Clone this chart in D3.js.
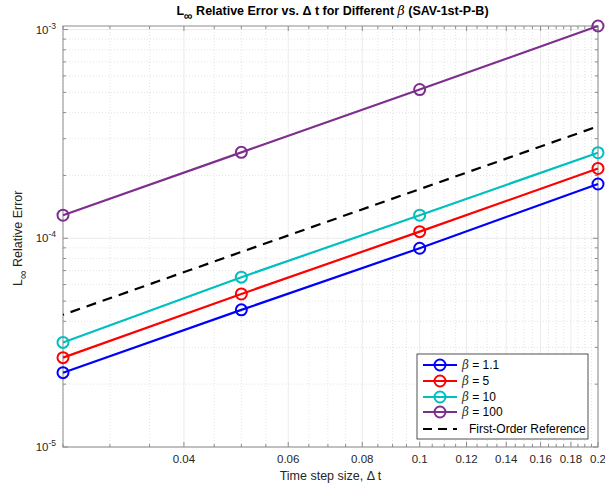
<!DOCTYPE html>
<meta charset="utf-8">
<script src="https://d3js.org/d3.v7.min.js"></script>
<style>
  body { margin: 0; background: #fff; }
  text { font-family: "Liberation Sans", Arial, sans-serif; }
</style>
<div id="my_dataviz"></div>
<script>

  // time steps and errors for each beta
  var dt = [0.025, 0.05, 0.1, 0.2];
  var betas = ["1.1", "5", "10", "100"];
  var errB1 = [2.27e-5, 4.54e-5, 8.96e-5, 1.82e-4];
  var errB5 = [2.68e-5, 5.41e-5, 1.076e-4, 2.16e-4];
  var errB10 = [3.17e-5, 6.51e-5, 1.29e-4, 2.57e-4];
  var errB100 = [1.29e-4, 2.58e-4, 5.16e-4, 1.04e-3];
  var refLine = [4.3e-5, 8.6e-5, 1.72e-4, 3.44e-4];
  var xTickLabels = [0.04, 0.06, 0.08, 0.1, 0.12, 0.14, 0.16, 0.18, 0.2];
  var yTickExps = [-5, -4, -3];

  var colors = ["#0000ff", "#ff0000", "#00bfbf", "#7e2f8e"];
  var seriesErr = [errB1, errB5, errB10, errB100];

  var margin = { top: 26, right: 7, bottom: 40, left: 63 },
    W = 605, H = 487,
    width = W - margin.left - margin.right,
    height = H - margin.top - margin.bottom;

  var svg = d3.select("#my_dataviz")
    .append("svg")
    .attr("width", W)
    .attr("height", H);

  var g = svg.append("g")
    .attr("transform", "translate(" + margin.left + "," + margin.top + ")");

  var x = d3.scaleLog().domain([0.025, 0.2]).range([0, width]);
  var y = d3.scaleLog().domain([1e-5, 1.04e-3]).range([height, 0]);

  // minor ticks
  var xMinor = d3.range(25, 201, 5).map(function (d) { return d / 1000; })
    .filter(function (d) { return xTickLabels.every(function (t) { return Math.abs(t - d) > 1e-9; }); });
  var yMinor = [];
  yTickExps.forEach(function (e) {
    for (var k = 2; k <= 9; k++) {
      var v = k * Math.pow(10, e);
      if (v <= 1.04e-3) yMinor.push(v);
    }
  });

  // grid
  g.selectAll(".xminor").data(xMinor).enter().append("line")
    .attr("x1", x).attr("x2", x).attr("y1", 0).attr("y2", height)
    .attr("stroke", "#d8d8d8").attr("stroke-width", 0.7).attr("stroke-dasharray", "1,2");
  g.selectAll(".yminor").data(yMinor).enter().append("line")
    .attr("y1", y).attr("y2", y).attr("x1", 0).attr("x2", width)
    .attr("stroke", "#d8d8d8").attr("stroke-width", 0.7).attr("stroke-dasharray", "1,2");
  g.selectAll(".xmajor").data(xTickLabels).enter().append("line")
    .attr("x1", x).attr("x2", x).attr("y1", 0).attr("y2", height)
    .attr("stroke", "#e6e6e6").attr("stroke-width", 0.8);
  g.selectAll(".ymajor").data(yTickExps).enter().append("line")
    .attr("y1", function (e) { return y(Math.pow(10, e)); })
    .attr("y2", function (e) { return y(Math.pow(10, e)); })
    .attr("x1", 0).attr("x2", width)
    .attr("stroke", "#e6e6e6").attr("stroke-width", 0.8);

  // box
  g.append("rect").attr("width", width).attr("height", height)
    .attr("fill", "none").attr("stroke", "#8c8c8c").attr("stroke-width", 1);

  // tick marks (inward)
  var tickCol = "#8c8c8c";
  xMinor.concat(xTickLabels).forEach(function (d) {
    var len = xTickLabels.indexOf(d) >= 0 ? 5 : 3;
    g.append("line").attr("x1", x(d)).attr("x2", x(d)).attr("y1", height).attr("y2", height - len).attr("stroke", tickCol);
    g.append("line").attr("x1", x(d)).attr("x2", x(d)).attr("y1", 0).attr("y2", len).attr("stroke", tickCol);
  });
  yMinor.forEach(function (d) {
    g.append("line").attr("y1", y(d)).attr("y2", y(d)).attr("x1", 0).attr("x2", 3).attr("stroke", tickCol);
    g.append("line").attr("y1", y(d)).attr("y2", y(d)).attr("x1", width).attr("x2", width - 3).attr("stroke", tickCol);
  });
  yTickExps.forEach(function (e) {
    var v = y(Math.pow(10, e));
    g.append("line").attr("y1", v).attr("y2", v).attr("x1", 0).attr("x2", 5).attr("stroke", tickCol);
    g.append("line").attr("y1", v).attr("y2", v).attr("x1", width).attr("x2", width - 5).attr("stroke", tickCol);
  });

  // tick labels
  g.selectAll(".xlab").data(xTickLabels).enter().append("text")
    .attr("x", x).attr("y", height + 16)
    .attr("text-anchor", "middle").attr("font-size", 11.5).attr("fill", "#262626")
    .text(function (d) { return d3.format("")(d); });

  yTickExps.forEach(function (e) {
    var t = g.append("text")
      .attr("x", -7).attr("y", y(Math.pow(10, e)) + 4)
      .attr("text-anchor", "end").attr("font-size", 11.5).attr("fill", "#262626");
    t.append("tspan").text("10");
    t.append("tspan").attr("dy", -5).attr("font-size", 8.5).text(String(e));
  });

  // axis labels
  svg.append("text")
    .attr("x", margin.left + width / 2).attr("y", H - 7)
    .attr("text-anchor", "middle").attr("font-size", 12.5).attr("fill", "#262626")
    .text("Time step size, \u0394 t");

  var yl = svg.append("text")
    .attr("transform", "translate(22," + (margin.top + y(1e-4)) + ") rotate(-90)")
    .attr("text-anchor", "middle").attr("font-size", 12.5).attr("fill", "#262626");
  yl.append("tspan").text("L");
  yl.append("tspan").attr("dy", 5).attr("font-size", 12).text("\u221e");
  yl.append("tspan").attr("dy", -5).text(" Relative Error");

  // title
  var title = svg.append("text")
    .attr("x", margin.left + width / 2 + 2).attr("y", 15)
    .attr("text-anchor", "middle").attr("font-size", 12.5).attr("font-weight", "bold").attr("fill", "#000");
  title.append("tspan").text("L");
  title.append("tspan").attr("dy", 5).attr("font-size", 12).text("\u221e");
  title.append("tspan").attr("dy", -5).text(" Relative Error vs. \u0394 t for Different ");
  title.append("tspan").attr("font-style", "italic").attr("font-weight", "normal").attr("font-family", "DejaVu Serif, serif").text("\u03b2");
  title.append("tspan").text(" (SAV-1st-P-B)");

  // series
  var line = d3.line()
    .x(function (d, i) { return x(dt[i]); })
    .y(function (d) { return y(d); });

  g.append("path").datum(refLine)
    .attr("d", line).attr("fill", "none").attr("stroke", "#000")
    .attr("stroke-width", 2.2).attr("stroke-dasharray", "10,7").attr("stroke-dashoffset", -8);

  seriesErr.forEach(function (s, k) {
    g.append("path").datum(s)
      .attr("d", line).attr("fill", "none").attr("stroke", colors[k]).attr("stroke-width", 2.2);
    g.selectAll(".pt" + k).data(s).enter().append("circle")
      .attr("cx", function (d, i) { return x(dt[i]); })
      .attr("cy", function (d) { return y(d); })
      .attr("r", 5.5).attr("fill", "none").attr("stroke", colors[k]).attr("stroke-width", 2);
  });

  // legend
  var lg = svg.append("g").attr("transform", "translate(417,354)");
  lg.append("rect").attr("width", 171).attr("height", 85)
    .attr("fill", "#fff").attr("stroke", "#262626").attr("stroke-width", 0.8);
  var rowY = [11, 27, 43, 58, 75];
  betas.forEach(function (b, k) {
    var r = lg.append("g").attr("transform", "translate(0," + rowY[k] + ")");
    r.append("line").attr("x1", 6).attr("x2", 40).attr("stroke", colors[k]).attr("stroke-width", 2.2);
    r.append("circle").attr("cx", 23).attr("r", 5.5).attr("fill", "none").attr("stroke", colors[k]).attr("stroke-width", 2);
    var t = r.append("text").attr("x", 45).attr("y", 4).attr("font-size", 12).attr("fill", "#000");
    t.append("tspan").attr("font-style", "italic").attr("font-family", "DejaVu Serif, serif").attr("fill", "#333").text("\u03b2");
    t.append("tspan").text(" = " + b);
  });
  var rr = lg.append("g").attr("transform", "translate(0," + rowY[4] + ")");
  rr.append("line").attr("x1", 6).attr("x2", 40).attr("stroke", "#000").attr("stroke-width", 2.2).attr("stroke-dasharray", "9,6");
  rr.append("text").attr("x", 52).attr("y", 4).attr("font-size", 12).attr("fill", "#000").text("First-Order Reference");

</script>
